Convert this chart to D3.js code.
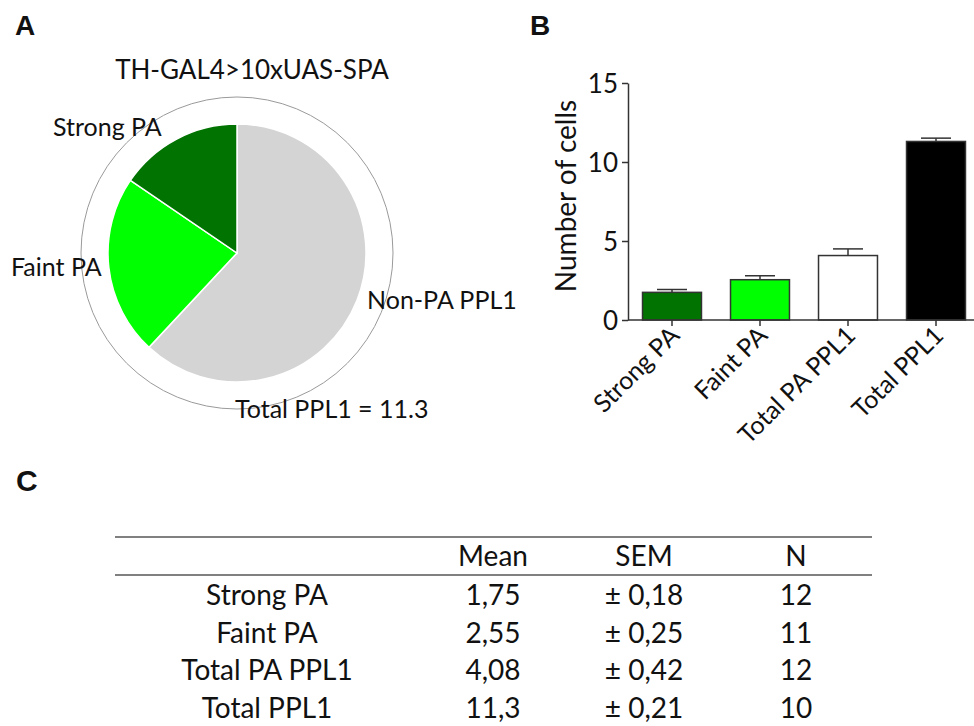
<!DOCTYPE html>
<html lang="en">
<head>
<meta charset="utf-8">
<title>PPL1 photoactivation counts</title>
<script src="https://d3js.org/d3.v7.min.js"></script>
<style type="text/css">
  body { margin: 0; background: #fff; }
  svg { display: block; font-family: 'Lato', 'Open Sans', sans-serif; }
  .panel-letter { font-family: 'Liberation Sans', Arial, sans-serif; font-weight: bold; }
</style>
</head>
<body>
<svg id="fig" width="974" height="726"></svg>
<script>

/* Data */
/* ==== */

var categories = ['Strong PA', 'Faint PA', 'Total PA PPL1', 'Total PPL1'];
var means      = [1.75, 2.55, 4.08, 11.3];
var sems       = [0.18, 0.25, 0.42, 0.21];
var counts     = [12, 11, 12, 10];
var meanLabels = ['1,75', '2,55', '4,08', '11,3'];
var semLabels  = ['± 0,18', '± 0,25', '± 0,42', '± 0,21'];

// pie slices (clockwise from 12 o'clock)
var pieLabels = ['Non-PA PPL1', 'Faint PA', 'Strong PA'];
var pieValues = [7.0, 2.55, 1.75];

var yTicks = [0, 5, 10, 15];


/* Setup */
/* ===== */

var svg = d3.select('#fig');
var textColor = '#111';

function letter(txt, x, y, size) {
  svg.append('text').attr('class', 'panel-letter')
    .attr('x', x).attr('y', y).attr('font-size', size)
    .attr('fill', textColor).text(txt);
}
letter('A', 15, 35, 28);
letter('B', 530, 35, 28);
letter('C', 16, 491, 30);


/* Panel A - pie */
/* ============= */

var cx = 237, cy = 253, rPie = 129, rRing = 156;
var pieColors = d3.scaleOrdinal().domain(pieLabels).range(['#d4d4d4', '#00ff00', '#007300']);

var gPie = svg.append('g').attr('transform', 'translate(' + cx + ',' + cy + ')');

gPie.append('circle')
  .attr('r', rRing)
  .attr('fill', 'none')
  .attr('stroke', '#9a9a9a')
  .attr('stroke-width', 1);

var pie = d3.pie().sort(null).value(function(d) { return d.value; });
var arc = d3.arc().innerRadius(0).outerRadius(rPie);

var pieData = pieLabels.map(function(l, i) { return { label: l, value: pieValues[i] }; });

gPie.selectAll('path.slice')
  .data(pie(pieData))
  .join('path')
  .attr('class', 'slice')
  .attr('d', arc)
  .attr('fill', function(d) { return pieColors(d.data.label); })
  .attr('stroke', '#fff')
  .attr('stroke-width', 1.5);

svg.append('text')
  .attr('x', 252).attr('y', 79)
  .attr('text-anchor', 'middle')
  .attr('font-size', 26)
  .attr('fill', textColor)
  .text('TH-GAL4>10xUAS-SPA');

var pieText = [
  { t: 'Strong PA', x: 53, y: 136 },
  { t: 'Faint PA', x: 11, y: 276 },
  { t: 'Non-PA PPL1', x: 367, y: 309 },
  { t: 'Total PPL1 = 11.3', x: 235, y: 418 }
];
svg.selectAll('text.pie-label')
  .data(pieText)
  .join('text')
  .attr('class', 'pie-label')
  .attr('x', function(d) { return d.x; })
  .attr('y', function(d) { return d.y; })
  .attr('font-size', 25)
  .attr('fill', textColor)
  .text(function(d) { return d.t; });


/* Panel B - bars */
/* ============== */

var x = d3.scaleBand()
  .domain(categories)
  .range([628, 980])
  .paddingInner(0.33)
  .paddingOuter(0.165);

var y = d3.scaleLinear().domain([0, 15]).range([320, 83]);

var barFill = ['#007300', '#00ff00', '#ffffff', '#000000'];
var axisColor = '#333';

var gBars = svg.append('g');

gBars.selectAll('rect.bar')
  .data(categories)
  .join('rect')
  .attr('class', 'bar')
  .attr('x', function(d) { return x(d); })
  .attr('y', function(d, i) { return y(means[i]); })
  .attr('width', x.bandwidth())
  .attr('height', function(d, i) { return y(0) - y(means[i]); })
  .attr('fill', function(d, i) { return barFill[i]; })
  .attr('stroke', axisColor)
  .attr('stroke-width', 1.5);

// error bars, upper side only
var capW = 30;
categories.forEach(function(c, i) {
  var cxb = x(c) + x.bandwidth() / 2;
  gBars.append('line')
    .attr('x1', cxb).attr('x2', cxb)
    .attr('y1', y(means[i])).attr('y2', y(means[i] + sems[i]))
    .attr('stroke', axisColor).attr('stroke-width', 1.5);
  gBars.append('line')
    .attr('x1', cxb - capW / 2).attr('x2', cxb + capW / 2)
    .attr('y1', y(means[i] + sems[i])).attr('y2', y(means[i] + sems[i]))
    .attr('stroke', axisColor).attr('stroke-width', 1.5);
});

// y axis
var yAxis = svg.append('g')
  .attr('transform', 'translate(628,0)')
  .call(d3.axisLeft(y).tickValues(yTicks).tickSize(6).tickPadding(4).tickSizeOuter(0));
yAxis.select('.domain').attr('stroke', axisColor).attr('stroke-width', 1.5);
yAxis.selectAll('.tick line').attr('stroke', axisColor).attr('stroke-width', 1.5);
yAxis.selectAll('.tick text')
  .attr('font-family', "'Lato', 'Open Sans', sans-serif")
  .attr('font-size', 26).attr('fill', textColor).attr('dy', '0.36em');

// x axis
var xAxis = svg.append('g')
  .attr('transform', 'translate(0,320)')
  .call(d3.axisBottom(x).tickSize(6).tickSizeOuter(0).tickFormat(''));
xAxis.select('.domain').attr('stroke', axisColor).attr('stroke-width', 1.5)
  .attr('d', 'M628,0H974');
xAxis.selectAll('.tick line').attr('stroke', axisColor).attr('stroke-width', 1.5);

svg.selectAll('text.xlab')
  .data(categories)
  .join('text')
  .attr('class', 'xlab')
  .attr('text-anchor', 'end')
  .attr('font-size', 25)
  .attr('fill', textColor)
  .attr('transform', function(d) {
    var tx = x(d) + x.bandwidth() / 2 + 9;
    return 'translate(' + tx + ',337) rotate(-45)';
  })
  .text(function(d) { return d; });

svg.append('text')
  .attr('transform', 'translate(576,196) rotate(-90)')
  .attr('text-anchor', 'middle')
  .attr('font-size', 28)
  .attr('fill', textColor)
  .text('Number of cells');


/* Panel C - table */
/* =============== */

var tLeft = 115, tRight = 872;
var colX = { name: 267, mean: 493, sem: 644, n: 796 };
var rowY = d3.scalePoint().domain(categories).range([605, 718]);

[537, 575].forEach(function(ly) {
  svg.append('line')
    .attr('x1', tLeft).attr('x2', tRight)
    .attr('y1', ly).attr('y2', ly)
    .attr('stroke', '#808080').attr('stroke-width', 2);
});

var headers = [['Mean', colX.mean], ['SEM', colX.sem], ['N', colX.n]];
svg.selectAll('text.thead')
  .data(headers)
  .join('text')
  .attr('class', 'thead')
  .attr('x', function(d) { return d[1]; })
  .attr('y', 566)
  .attr('text-anchor', 'middle')
  .attr('font-size', 28)
  .attr('fill', textColor)
  .text(function(d) { return d[0]; });

var rows = svg.selectAll('g.trow')
  .data(categories)
  .join('g')
  .attr('class', 'trow')
  .attr('transform', function(d) { return 'translate(0,' + rowY(d) + ')'; })
  .attr('font-size', 28)
  .attr('fill', textColor)
  .attr('text-anchor', 'middle');

rows.append('text').attr('x', colX.name).text(function(d) { return d; });
rows.append('text').attr('x', colX.mean).text(function(d, i) { return meanLabels[i]; });
rows.append('text').attr('x', colX.sem).text(function(d, i) { return semLabels[i]; });
rows.append('text').attr('x', colX.n).text(function(d, i) { return counts[i]; });

</script>
</body>
</html>
